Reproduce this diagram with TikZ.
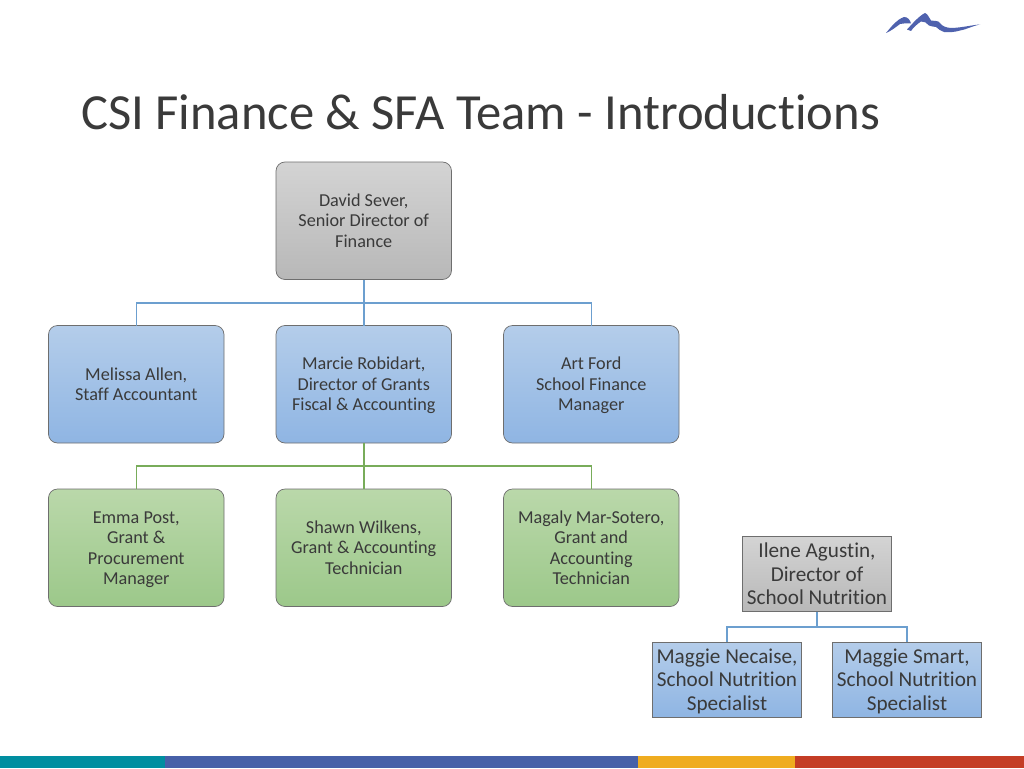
\documentclass[tikz,border=0pt]{standalone}
\usepackage{fontspec}
\setmainfont[Ligatures=NoCommon]{Carlito}
\usetikzlibrary{positioning}

\definecolor{inkgrey}{HTML}{3A3A3A}
\definecolor{edgegrey}{HTML}{6E6E6E}
\definecolor{wireblue}{HTML}{6C9FCF}
\definecolor{wiregreen}{HTML}{78AC5A}
\definecolor{logoblue}{HTML}{4F62AE}

\newcommand{\leadrule}{\rule{0pt}{0.96em}}

\tikzset{
	x=1pt, y=1pt,
	card/.style={draw=edgegrey, line width=0.7pt, rounded corners=9pt, outer sep=0pt, inner sep=0pt,
		align=center, text=inkgrey, minimum width=175.5pt, minimum height=117.5pt,
		execute at end node={\rule[-5pt]{0pt}{5pt}},
		font=\fontsize{18.2}{20.5}\selectfont},
	tag/.style={draw=edgegrey, line width=0.7pt, outer sep=0pt, inner sep=0pt,
		align=center, text=inkgrey, minimum width=149pt, minimum height=75pt,
		execute at end node={\rule[-6pt]{0pt}{6pt}},
		font=\fontsize{21.2}{23.4}\selectfont},
	grey/.style={top color=black!17, bottom color=black!28},
	blue/.style={top color={rgb,255:red,180;green,205;blue,234}, bottom color={rgb,255:red,143;green,181;blue,227}},
	green/.style={top color={rgb,255:red,186;green,216;blue,170}, bottom color={rgb,255:red,156;green,200;blue,138}},
	wire/.style={line width=1.5pt, draw=wireblue},
	greenwire/.style={line width=1.5pt, draw=wiregreen},
}

\begin{document}
\begin{tikzpicture}
	\useasboundingbox (0,0) rectangle (1024,-768);
	\fill[white] (0,0) rectangle (1024,-768);

	\node[anchor=base west, inner sep=0pt, text=inkgrey, font=\fontsize{50.6}{55}\selectfont] (title) at (81,-129) {CSI Finance \& SFA Team - Introductions};

	\node[card, grey] (david) at (363.75,-220.75) {\leadrule David Sever,\\Senior Director of\\Finance};
	\node[card, blue, below=46pt of david] (marcie) {\leadrule Marcie Robidart,\\Director of Grants\\Fiscal \& Accounting};
	\node[card, blue, left=52pt of marcie] (melissa) {\leadrule Melissa Allen,\\Staff Accountant};
	\node[card, blue, right=52pt of marcie] (art) {\leadrule Art Ford\\School Finance\\Manager};
	\node[card, green, below=46pt of marcie] (shawn) {\leadrule Shawn Wilkens,\\Grant \& Accounting\\Technician};
	\node[card, green, left=52pt of shawn] (emma) {\leadrule Emma Post,\\Grant \&\\Procurement\\Manager};
	\node[card, green, right=52pt of shawn] (magaly) {\leadrule Magaly Mar-Sotero,\\Grant and\\Accounting\\Technician};

	\node[tag, grey] (ilene) at (817,-574) {\leadrule Ilene Agustin,\\Director of\\School Nutrition};
	\node[tag, blue] (necaise) at (727,-679.5) {\leadrule Maggie Necaise,\\School Nutrition\\Specialist};
	\node[tag, blue, right=31pt of necaise] (smart) {\leadrule Maggie Smart,\\School Nutrition\\Specialist};

	\coordinate (bluebus) at (363.75,-303);
	\coordinate (greenbus) at (363.75,-466);
	\coordinate (tagbus) at (817,-627);

	\draw[wire] (david.south) -- (bluebus) -- (marcie.north);
	\draw[wire] (melissa.north) |- (bluebus) -| (art.north);
	\draw[greenwire] (marcie.south) -- (greenbus) -- (shawn.north);
	\draw[greenwire] (emma.north) |- (greenbus) -| (magaly.north);
	\draw[wire] (ilene.south) -- (tagbus);
	\draw[wire] (necaise.north) |- (tagbus) -| (smart.north);

	% logo
	\fill[logoblue] (886,-33) .. controls (892,-26) and (896,-20) .. (904,-17)
		.. controls (908,-17) and (910,-20) .. (911,-23.5) .. controls (906,-23) and (903,-23.5) .. (900,-24) .. controls (896,-27) and (891,-31) .. cycle;
	\fill[logoblue] (907,-29.5) .. controls (913,-23) and (919,-16) .. (925,-13)
		.. controls (928,-14) and (929,-18) .. (931,-20.5) .. controls (934,-21.5) and (938,-20) .. (940,-23)
		.. controls (942,-26) and (946,-28) .. (952,-28) .. controls (963,-27.5) and (972,-25) .. (980,-24.5)
		.. controls (972,-26) and (968,-29) .. (960,-30.5) .. controls (955,-32) and (950,-32.5) .. (944,-32)
		.. controls (941,-31) and (938,-29) .. (936,-27) .. controls (933,-26) and (931,-27) .. (929,-25.5)
		.. controls (927,-23) and (924,-21) .. (921,-21.5) .. controls (917,-24) and (913,-28) .. (911,-31) -- cycle;

	% footer bar
	\fill[fill={rgb,255:red,0;green,142;blue,160}] (0,-756) rectangle (165,-768);
	\fill[fill={rgb,255:red,71;green,96;blue,168}] (165,-756) rectangle (638,-768);
	\fill[fill={rgb,255:red,239;green,172;blue,32}] (638,-756) rectangle (795,-768);
	\fill[fill={rgb,255:red,196;green,61;blue,37}] (795,-756) rectangle (1024,-768);
\end{tikzpicture}
\end{document}
